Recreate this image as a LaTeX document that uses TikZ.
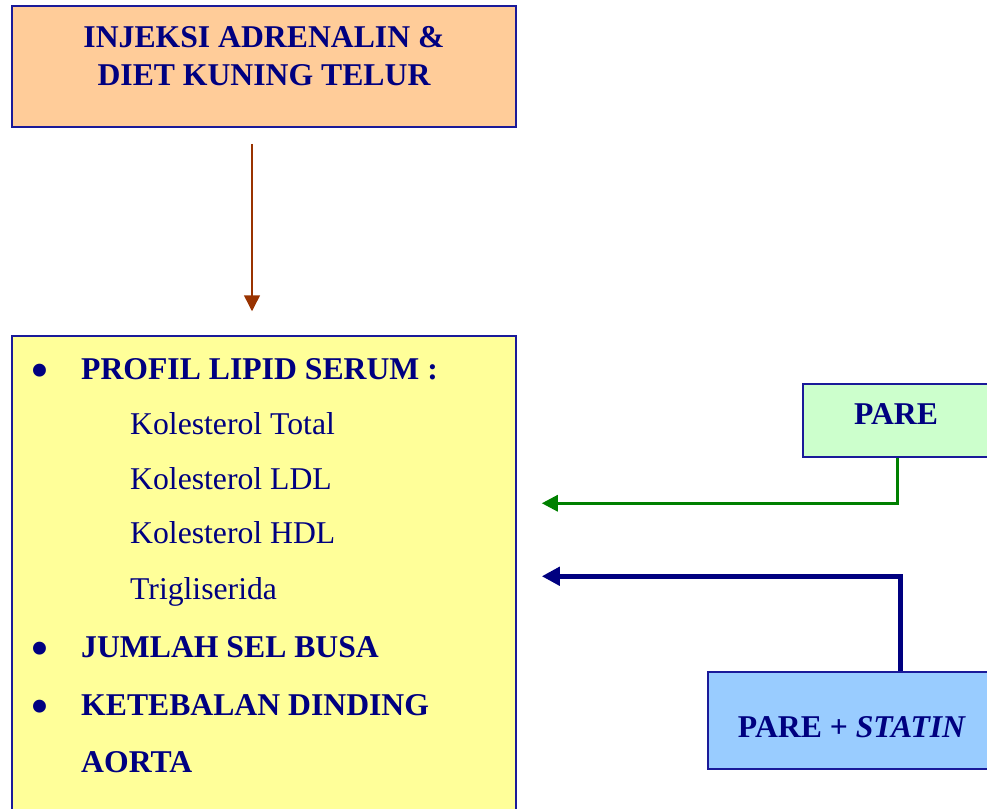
\documentclass[tikz,border=0pt]{standalone}
\usepackage{fontspec}
\setmainfont{Liberation Serif}
\usetikzlibrary{arrows.meta}
\definecolor{navytxt}{HTML}{000080}
\definecolor{boxline}{HTML}{1A1A99}
\definecolor{orangefill}{HTML}{FFCC99}
\definecolor{yellowfill}{HTML}{FFFF99}
\definecolor{greenfill}{HTML}{CCFFCC}
\definecolor{bluefill}{HTML}{99CCFF}
\definecolor{brownline}{HTML}{993300}
\definecolor{greenline}{HTML}{008000}
\definecolor{blueline}{HTML}{000080}
\begin{document}
\begin{tikzpicture}[x=1pt,y=-1pt,
  boxstyle/.style={draw=boxline,line width=1.5pt,rectangle,inner sep=0pt},
  txt/.style={text=navytxt,inner sep=0pt,font=\fontsize{31.7}{38}\selectfont},
  btxt/.style={txt,font=\fontsize{31.7}{38}\selectfont\bfseries},
  bul/.style={text=navytxt,inner sep=0pt,font=\fontsize{54}{60}\selectfont,anchor=center},
  conn/.style={-{Triangle[length=#1,width=#1]}}
]
\useasboundingbox (0,0) rectangle (987,808);
\clip (0,0) rectangle (987,808);
% boxes
\node[boxstyle,fill=orangefill,minimum width=504,minimum height=121] (inj) at (264,66.5) {};
\node[boxstyle,fill=yellowfill,minimum width=504,minimum height=500] (res) at (264,586) {};
\node[boxstyle,fill=greenfill,minimum width=186,minimum height=73] (pare) at (896,420.5) {};
\node[boxstyle,fill=bluefill,minimum width=288,minimum height=97] (pstat) at (852,720.5) {};
% labels
\node[btxt,anchor=base,align=center] (injtxt) at (264,85) {INJEKSI ADRENALIN \&\\DIET KUNING TELUR};
\node[btxt,anchor=base] (paretxt) at (896,424) {PARE};
\node[btxt,anchor=base] (pstattxt) at (852,737) {PARE + \textit{STATIN}};
% list
\node[bul] (b1) at (40,376) {\textbullet};
\node[btxt,anchor=base west] (l1) at (81,379) {PROFIL LIPID SERUM :};
\node[txt,anchor=base west] (s1) at (130,434) {Kolesterol Total};
\node[txt,anchor=base west] (s2) at (130,489) {Kolesterol LDL};
\node[txt,anchor=base west] (s3) at (130,543) {Kolesterol HDL};
\node[txt,anchor=base west] (s4) at (130,599) {Trigliserida};
\node[bul] (b2) at (40,654) {\textbullet};
\node[btxt,anchor=base west] (l2) at (81,657) {JUMLAH SEL BUSA};
\node[bul] (b3) at (40,712) {\textbullet};
\node[btxt,anchor=base west] (l3) at (81,715) {KETEBALAN DINDING};
\node[btxt,anchor=base west] (l4) at (81,772) {AORTA};
% connectors
\draw[brownline,line width=1.5pt,conn=16] ([shift={(-12,16)}]inj.south) -- ([shift={(-12,-24)}]res.north);
\draw[greenline,line width=3pt,conn=16] ([xshift=1]pare.south) |- ([shift={(25,168)}]res.north east);
\draw[blueline,line width=5pt,conn=18] ([xshift=48]pstat.north) |- ([shift={(25,241)}]res.north east);
\end{tikzpicture}
\end{document}
